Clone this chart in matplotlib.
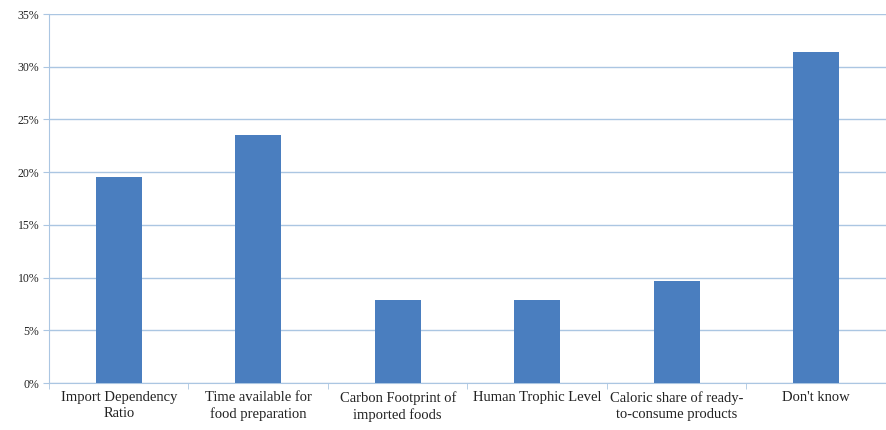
import matplotlib
matplotlib.use("Agg")
from matplotlib import pyplot as plt
from matplotlib.ticker import FuncFormatter, MultipleLocator
import numpy as np

categories = ["Import Dependency\nRatio", "Time available for\nfood preparation",
              "Carbon Footprint of\nimported foods", "Human Trophic Level",
              "Caloric share of ready-\nto-consume products", "Don't know"]
shares = [19.5, 23.5, 7.9, 7.9, 9.7, 31.4]

bar_color = "#4A7EBF"
grid_color = "#ABC6E2"

fig = plt.figure(figsize=(8.86, 4.30), dpi=100)
ax = fig.add_axes([0.0553, 0.1093, 0.9447, 0.8581])

x = np.arange(len(categories))
ax.bar(x, shares, width=0.33, color=bar_color, zorder=3)

ax.set_xlim(-0.5, len(categories) - 0.5)
ax.set_ylim(0, 35)
ax.yaxis.set_major_locator(MultipleLocator(5))
ax.yaxis.set_major_formatter(FuncFormatter(lambda v, p: "%d%%" % v))
ax.grid(axis="y", color=grid_color, linewidth=1, zorder=0)

ax.set_xticks(x)
ax.set_xticklabels(categories, fontsize=10.5, family="Liberation Serif", color="#222222",
                   linespacing=1.3)
ax.tick_params(axis="x", which="major", length=0, pad=6)
ax.set_xticks(np.arange(-0.5, len(categories), 1.0), minor=True)
ax.tick_params(axis="x", which="minor", length=4, color=grid_color)
ax.tick_params(axis="y", length=4, color=grid_color, labelsize=8.5, pad=3)
for lbl in ax.get_yticklabels():
    lbl.set_family("Liberation Serif")
    lbl.set_color("#222222")

for side in ["top", "right"]:
    ax.spines[side].set_visible(False)
ax.spines["left"].set_color(grid_color)
ax.spines["bottom"].set_color(grid_color)

fig.savefig("out.png", dpi=100)
